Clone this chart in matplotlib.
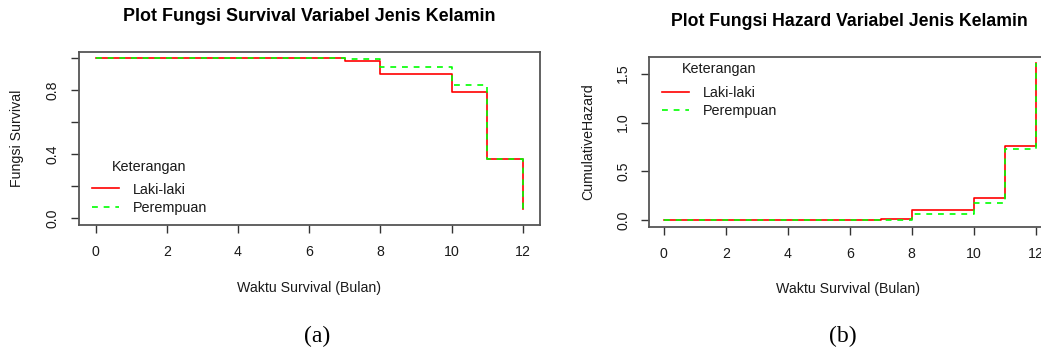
import matplotlib
matplotlib.use('Agg')
import matplotlib.pyplot as plt

# ---- data ----
months = [0, 7, 8, 10, 11, 12]
surv_laki = [1.0, 0.985, 0.902, 0.789, 0.373, 0.056]
surv_perempuan = [1.0, 0.994, 0.948, 0.831, 0.373, 0.056]
haz_laki = [0.0, 0.016, 0.102, 0.224, 0.755, 1.608]
haz_perempuan = [0.0, 0.006, 0.061, 0.180, 0.730, 1.608]
group_labels = ['Laki-laki', 'Perempuan']
x_ticks = [0, 2, 4, 6, 8, 10, 12]
surv_yticks = [0.0, 0.2, 0.4, 0.6, 0.8, 1.0]
surv_yticklabels = ['0.0', '', '0.4', '', '0.8', '']
haz_yticks = [0.0, 0.5, 1.0, 1.5]
haz_yticklabels = ['0.0', '0.5', '1.0', '1.5']

plt.rcParams['font.family'] = ['Liberation Sans', 'DejaVu Sans']

W, H = 1041, 354
fig = plt.figure(figsize=(W / 100, H / 100), dpi=100)


def px_axes(l, t, r, b):
    return fig.add_axes([l / W, 1 - b / H, (r - l) / W, (b - t) / H])


ax1 = px_axes(78.5, 51.7, 540, 225)
ax2 = px_axes(649, 56.7, 1050.5, 226.7)

RED = '#FF0000'
GREEN = '#00FF00'
TXT = '#1a1a1a'
FS = 10.2

for ax, ya, yb, yticks, ylabels in [
        (ax1, surv_laki, surv_perempuan, surv_yticks, surv_yticklabels),
        (ax2, haz_laki, haz_perempuan, haz_yticks, haz_yticklabels)]:
    ax.step(months, ya, where='post', color=RED, lw=1.2, label=group_labels[0])
    ax.step(months, yb, where='post', color=GREEN, lw=1.2,
            ls=(0, (3.5, 3.5)), label=group_labels[1])
    ax.set_xlim(-0.48, 12.48)
    ax.set_xticks(x_ticks)
    ax.set_xticklabels([str(v) for v in x_ticks])
    ax.set_yticks(yticks)
    ax.set_yticklabels(ylabels)
    for sp in ax.spines.values():
        sp.set_color('#555555')
        sp.set_linewidth(1.3)
    ax.tick_params(direction='out', length=5.5, width=1.0, color='#333333',
                   labelsize=FS, labelcolor=TXT)
    ax.tick_params(axis='x', pad=9)
    ax.tick_params(axis='y', pad=8, labelrotation=90)
    for lbl in ax.get_yticklabels():
        lbl.set_va('center')

ax1.set_ylim(-0.0416, 1.0416)
ax2.set_ylim(-0.064, 1.672)

# titles
ax1.set_title('Plot Fungsi Survival Variabel Jenis Kelamin', fontsize=12.9,
              fontweight='bold', y=1.206, va='center', color='black', pad=0)
ax2.set_title('Plot Fungsi Hazard Variabel Jenis Kelamin', fontsize=12.7,
              fontweight='bold', y=1.206, va='center', color='black', pad=0)

# axis labels
ax1.set_xlabel('Waktu Survival (Bulan)', fontsize=FS, color=TXT)
ax1.xaxis.set_label_coords(0.5, (225 - 288) / 173.3)
ax1.xaxis.label.set_va('center')
ax1.set_ylabel('Fungsi Survival', fontsize=FS, color=TXT)
ax1.yaxis.set_label_coords((17 - 78.5) / 461.5, 0.5)
ax1.yaxis.label.set_va('center')

ax2.set_xlabel('Waktu Survival (Bulan)', fontsize=FS, color=TXT)
ax2.xaxis.set_label_coords((848 - 649) / 401.5, (226.7 - 288.7) / 170)
ax2.xaxis.label.set_va('center')
ax2.set_ylabel('CumulativeHazard', fontsize=FS, color=TXT)
ax2.yaxis.set_label_coords((588 - 649) / 401.5, 0.5)
ax2.yaxis.label.set_va('center')

# legends
leg_kw = dict(frameon=False, title='Keterangan', fontsize=10.4,
              title_fontsize=10.4, handlelength=1.9, handletextpad=0.9,
              labelspacing=0.28, borderpad=0, borderaxespad=0, loc='upper left')
l1 = ax1.legend(bbox_to_anchor=((92 - 78.5) / 461.5, (225 - 159.5) / 173.3), **leg_kw)
l2 = ax2.legend(bbox_to_anchor=((662 - 649) / 401.5, (226.7 - 62) / 170), **leg_kw)
for lg, gap in ((l1, 6.5), (l2, 7.5)):
    lg._legend_box.sep = gap
    lg.get_title().set_color(TXT)
    for t in lg.get_texts():
        t.set_color(TXT)

# panel captions
fig.text(316.8 / W, 1 - 336 / H, '(a)', fontsize=17, family='Liberation Serif',
         ha='center', va='center', color='black')
fig.text(843.3 / W, 1 - 336 / H, '(b)', fontsize=17, family='Liberation Serif',
         ha='center', va='center', color='black')

fig.savefig('out.png', dpi=100)
